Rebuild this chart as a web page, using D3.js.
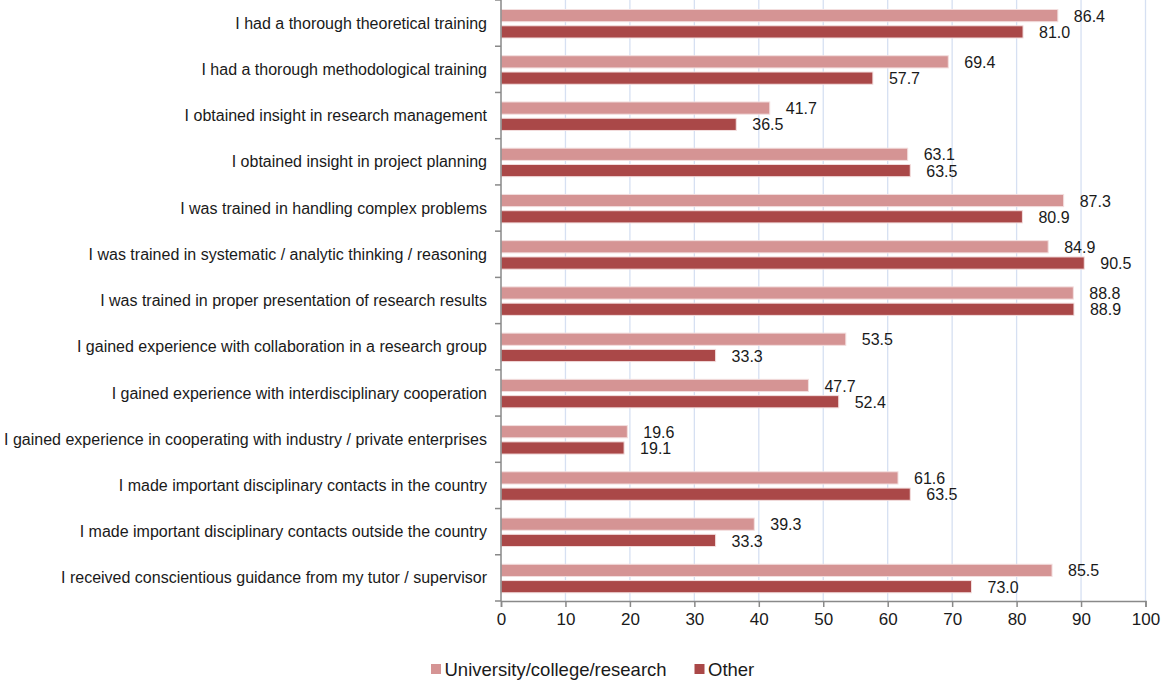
<!DOCTYPE html>
<html>
<head>
<meta charset="utf-8">
<script src="https://cdn.jsdelivr.net/npm/d3@7"></script>
<style>
  html, body { margin: 0; padding: 0; background: #fff; }
  svg { display: block; font-family: "Liberation Sans", Arial, sans-serif; }
</style>
</head>
<body>
<svg id="chart" width="1161" height="681"></svg>
<script>
const categories = [
  "I had a thorough theoretical training",
  "I had a thorough methodological training",
  "I obtained insight in research management",
  "I obtained insight in project planning",
  "I was trained in handling complex problems",
  "I was trained in systematic / analytic thinking / reasoning",
  "I was trained in proper presentation of research results",
  "I gained experience with collaboration in a research group",
  "I gained experience with interdisciplinary cooperation",
  "I gained experience in cooperating with industry / private enterprises",
  "I made important disciplinary contacts in the country",
  "I made important disciplinary contacts outside the country",
  "I received conscientious guidance from my tutor / supervisor"
];
const seriesNames = ["University/college/research", "Other"];
const university = [86.4, 69.4, 41.7, 63.1, 87.3, 84.9, 88.8, 53.5, 47.7, 19.6, 61.6, 39.3, 85.5];
const other      = [81.0, 57.7, 36.5, 63.5, 80.9, 90.5, 88.9, 33.3, 52.4, 19.1, 63.5, 33.3, 73.0];
const xTicks = [0, 10, 20, 30, 40, 50, 60, 70, 80, 90, 100];

const colors = { "University/college/research": "#d59494", "Other": "#aa4848" };

const svg = d3.select("#chart");
const plot = { left: 501, right: 1145.5, top: 0, bottom: 601 };

const x = d3.scaleLinear().domain([0, 100]).range([plot.left, plot.right]);
const y = d3.scaleBand().domain(categories).range([plot.top, plot.bottom]).padding(0);
const yInner = d3.scaleBand().domain(seriesNames).range([9.5, 38]).paddingInner(0.25).paddingOuter(0);

const rows = categories.map((c, i) => ({
  category: c,
  values: [
    { series: seriesNames[0], value: university[i] },
    { series: seriesNames[1], value: other[i] }
  ]
}));

// vertical gridlines
svg.append("g")
  .selectAll("line")
  .data(xTicks.filter(t => t > 0))
  .join("line")
  .attr("x1", d => x(d)).attr("x2", d => x(d))
  .attr("y1", plot.top).attr("y2", plot.bottom)
  .attr("stroke", "#d6e0f2")
  .attr("stroke-width", 1.3);

// bars
const groups = svg.append("g")
  .selectAll("g")
  .data(rows)
  .join("g")
  .attr("transform", d => `translate(0,${y(d.category)})`);

groups.selectAll("rect")
  .data(d => d.values)
  .join("rect")
  .attr("x", x(0))
  .attr("y", d => yInner(d.series))
  .attr("width", d => x(d.value) - x(0))
  .attr("height", yInner.bandwidth())
  .attr("fill", d => colors[d.series])
  .attr("stroke", "#f3dede")
  .attr("stroke-width", 1);

// value labels
groups.selectAll("text")
  .data(d => d.values)
  .join("text")
  .attr("x", d => x(d.value) + 16)
  .attr("y", d => yInner(d.series) + yInner.bandwidth() / 2)
  .attr("dy", "0.38em")
  .attr("font-size", 16)
  .attr("fill", "#1a1a1a")
  .text(d => d.value.toFixed(1));

// x axis
const xAxis = svg.append("g")
  .attr("transform", `translate(0,${plot.bottom})`)
  .call(d3.axisBottom(x).tickValues(xTicks).tickSize(6).tickPadding(6).tickFormat(d3.format("d")));
xAxis.select(".domain").attr("stroke", "#898989").attr("stroke-width", 1.5);
xAxis.selectAll(".tick line").attr("stroke", "#898989").attr("stroke-width", 1.5);
xAxis.selectAll(".tick text")
  .attr("font-size", 17)
  .attr("fill", "#1a1a1a")
  .attr("font-family", "'Liberation Sans', Arial, sans-serif");

// y axis with ticks on category boundaries
const yAxisG = svg.append("g").attr("transform", `translate(${plot.left},0)`);
yAxisG.append("line")
  .attr("x1", 0).attr("x2", 0)
  .attr("y1", plot.top).attr("y2", plot.bottom)
  .attr("stroke", "#898989").attr("stroke-width", 1.5);
const boundaries = categories.map(c => y(c)).concat([plot.bottom]);
yAxisG.selectAll("line.tk")
  .data(boundaries)
  .join("line")
  .attr("class", "tk")
  .attr("x1", -6).attr("x2", 0)
  .attr("y1", d => d).attr("y2", d => d)
  .attr("stroke", "#898989").attr("stroke-width", 1.5);
yAxisG.selectAll("text")
  .data(categories)
  .join("text")
  .attr("x", -14)
  .attr("y", d => y(d) + y.bandwidth() / 2)
  .attr("dy", "0.35em")
  .attr("text-anchor", "end")
  .attr("font-size", 16)
  .attr("fill", "#1a1a1a")
  .text(d => d);

// legend
const legendItems = [
  { name: seriesNames[0], x: 431 },
  { name: seriesNames[1], x: 694.5 }
];
const legend = svg.append("g");
legend.selectAll("rect")
  .data(legendItems)
  .join("rect")
  .attr("x", d => d.x).attr("y", 664)
  .attr("width", 10).attr("height", 10)
  .attr("fill", d => colors[d.name]);
legend.selectAll("text")
  .data(legendItems)
  .join("text")
  .attr("x", d => d.x + 13.5).attr("y", 676)
  .attr("font-size", 18.5)
  .attr("fill", "#1a1a1a")
  .text(d => d.name);
</script>
</body>
</html>
